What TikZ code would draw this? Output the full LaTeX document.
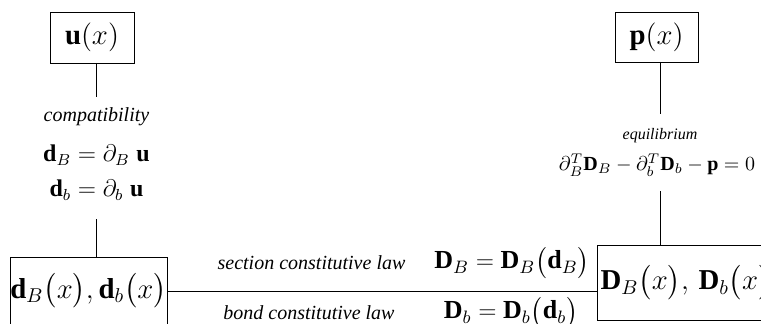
\documentclass[tikz,border=0pt]{standalone}
\usepackage{amsmath,amssymb}
\usepackage{fontspec}
\setmainfont{Liberation Serif}[ItalicFont={Liberation Serif Italic}]
\usetikzlibrary{positioning}

\begin{document}
\begin{tikzpicture}[box/.style={draw, inner sep=0pt, outer sep=0pt}, x=0.5pt, y=-0.5pt,
				law/.style={font=\normalsize\itshape, inner sep=1pt}, % Beschriftung der Linien
				font=\large]
				%Bildbereich
				\useasboundingbox (0,0) rectangle (761,324);
				% Kaesten zeichnen
				\node[box, minimum width=42pt, minimum height=25.5pt, font=\Large] (u) at (92,37.5) {$\mathbf{u}(x)$};
				\node[box, minimum width=41.5pt, minimum height=25pt, font=\Large] (p) at (656.5,37) {$\mathbf{p}(x)$};
				\node[box, minimum width=78.5pt, minimum height=34pt, font=\Large] (dbox) at (88.5,291) {$\mathbf{d}_B\bigl(x\bigr),\mathbf{d}_b\bigl(x\bigr)$};
				\node[box, minimum width=89pt, minimum height=37.5pt, font=\Large] (Dbox) at (686,282.5) {$\mathbf{D}_B\bigl(x\bigr),\,\mathbf{D}_b\bigl(x\bigr)$};
				% Gleichungen
				\node[law] (compat) at (96.5,117) {compatibility};
				\node (eqB) at (96.5,155) {$\mathbf{d}_B=\partial_B\;\mathbf{u}$};
				\node (eqb) at (96.5,190) {$\mathbf{d}_b=\partial_b\;\mathbf{u}$};
				\node[law, font=\footnotesize\itshape] (equil) at (660,136) {equilibrium};
				\node[font=\normalsize] (eqR) at (657,165) {$\partial_B^T\mathbf{D}_B-\partial_b^T\mathbf{D}_b-\mathbf{p}=0$};
				\node[law] (sect) at (311.5,263) {section constitutive law};
				\node[inner sep=1pt, font=\fontsize{13}{15}\selectfont] (eqS) at (512,263) {$\mathbf{D}_B=\mathbf{D}_B\bigl(\mathbf{d}_B\bigr)$};
				\node[law] (bond) at (309,313) {bond constitutive law};
				\node[inner sep=1pt, font=\fontsize{13}{15}\selectfont] (eqN) at (511,313) {$\mathbf{D}_b=\mathbf{D}_b\bigl(\mathbf{d}_b\bigr)$};
				% Verbindungen
				\draw (compat.north |- u.south) -- ([yshift=4pt]compat.north);
				\draw ([yshift=-6pt]eqb.south) -- (eqb.south |- dbox.north);
				\draw (equil.north |- p.south) -- ([yshift=6pt]equil.north);
				\draw ([yshift=-4pt]equil.north |- eqR.south) -- (equil.north |- Dbox.north);
				\draw (dbox.east) -- (dbox.east -| Dbox.west);
			\end{tikzpicture}
\end{document}
